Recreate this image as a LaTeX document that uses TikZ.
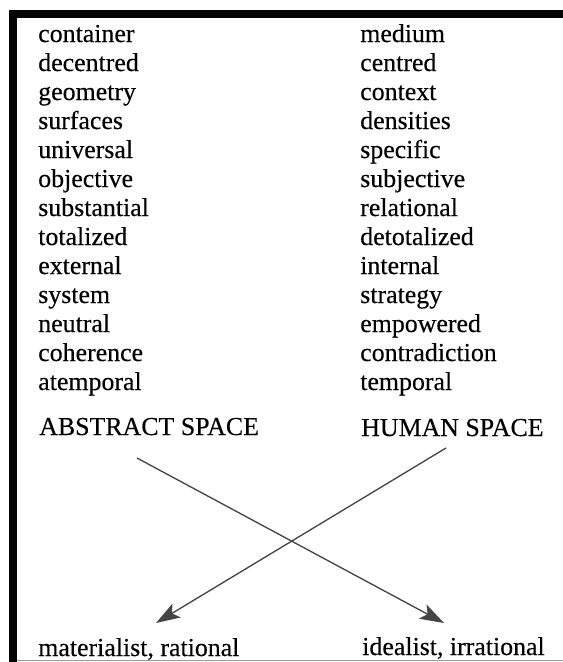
\documentclass[tikz,border=0pt]{standalone}
\usepackage{fontspec}
\setmainfont{Liberation Serif}[FakeBold=0.3]
\usetikzlibrary{arrows.meta}
\definecolor{Frame}{HTML}{050505}
\definecolor{Wire}{HTML}{454545}
\definecolor{Rule}{HTML}{9A9A9A}

\begin{document}
\begin{tikzpicture}[x=0.75pt,y=-0.75pt,every node/.style={font=\fontsize{19.4}{23}\selectfont,inner sep=0pt,anchor=base west},
  wire/.style={Wire,line width=1pt,-{Stealth[length=18pt,width=12pt,inset=4pt]}}]
\useasboundingbox (0,0) rectangle (563,662);
\fill[Frame] (9,10) rectangle (563,18);\fill[Frame] (9,10) rectangle (17,662);
\draw[Rule,line width=1pt] (17,660.5)--(563,660.5);
\node (l1) at (38,42) {container};\node (r1) at (360,42) {medium};
\node (l2) at (38,71) {decentred};\node (r2) at (360,71) {centred};
\node (l3) at (38,100) {geometry};\node (r3) at (360,100) {context};
\node (l4) at (38,129) {surfaces};\node (r4) at (360,129) {densities};
\node (l5) at (38,158) {universal};\node (r5) at (360,158) {specific};
\node (l6) at (38,187) {objective};\node (r6) at (360,187) {subjective};
\node (l7) at (38,216) {substantial};\node (r7) at (360,216) {relational};
\node (l8) at (38,245) {totalized};\node (r8) at (360,245) {detotalized};
\node (l9) at (38,274) {external};\node (r9) at (360,274) {internal};
\node (l10) at (38,303) {system};\node (r10) at (360,303) {strategy};
\node (l11) at (38,332) {neutral};\node (r11) at (360,332) {empowered};
\node (l12) at (38,361) {coherence};\node (r12) at (360,361) {contradiction};
\node (l13) at (38,390) {atemporal};\node (r13) at (360,390) {temporal};
\node (abs) at (39,435) {ABSTRACT SPACE};\node (hum) at (361,436) {HUMAN SPACE};
\node (mat) at (38,656) {materialist, rational};\node (ide) at (362,655) {idealist, irrational};
\coordinate (abs-out) at ([shift={(98,23)}]abs.base west);\coordinate (hum-out) at ([shift={(85,12)}]hum.base west);
\coordinate (mat-in) at ([shift={(118,-33)}]mat.base west);\coordinate (ide-in) at ([shift={(82,-32)}]ide.base west);
\draw[wire] (abs-out)--(ide-in);\draw[wire] (hum-out)--(mat-in);
\end{tikzpicture}
\end{document}
